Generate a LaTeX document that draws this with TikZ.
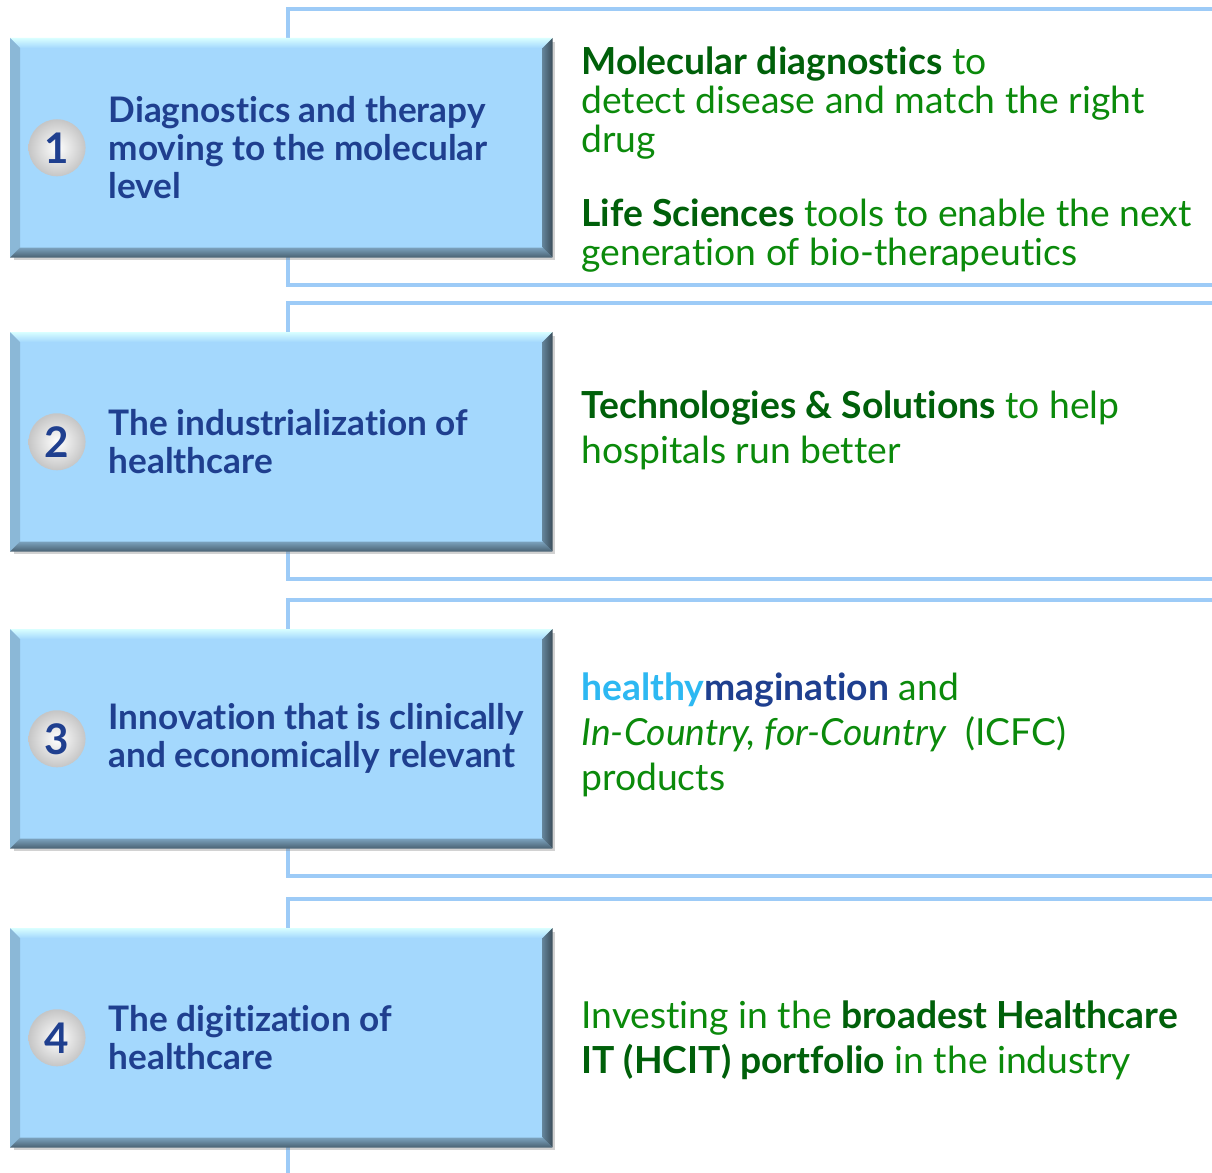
\documentclass[tikz,border=0pt]{standalone}
\usepackage{fontspec}
\setmainfont{Lato}[Ligatures=CommonOff]
\usepackage{tikz}
\usetikzlibrary{positioning,shadows}

\definecolor{rimblue}{HTML}{9DCBF7}
\definecolor{boxblue}{HTML}{A4D8FD}
\definecolor{navy}{HTML}{1F3F8F}
\definecolor{leafgreen}{HTML}{0B8A0B}
\definecolor{darkgreen}{HTML}{00600A}
\definecolor{skyblue}{HTML}{2DB8F2}

\tikzset{
  rim/.style={rimblue, line width=1.3pt},
  panel/.style={fill=boxblue, minimum width=5.41cm, minimum height=2.18cm, inner sep=0pt,
    anchor=north west, drop shadow={shadow xshift=0.03cm, shadow yshift=-0.03cm, fill=gray, opacity=0.35}},
  badge/.style={circle, minimum size=0.57cm, inner sep=0pt, inner color=white, outer color=gray!45,
    font=\bfseries\fontsize{12}{12}\selectfont, text=navy},
  title/.style={font=\bfseries\fontsize{10}{10.8}\selectfont, text=navy, align=left, anchor=west},
  note/.style={font=\fontsize{10.6}{12.8}\selectfont, text=leafgreen, align=left},
}
\newcommand{\hl}[1]{\textbf{\color{darkgreen}#1}}

\begin{document}
\begin{tikzpicture}[x=0.01cm, y=-0.01cm]

        \useasboundingbox (0,0) rectangle (1212,1173);
        \fill[white] (0,0) rectangle (1212,1173);

        % panel frames
        \foreach \t in {9, 303, 600}
        {
        \draw[rim] (1212,\t) -- (288,\t) -- (288,{\t+276}) -- (1212,{\t+276});
        }
        \draw[rim] (1212,899) -- (288,899) -- (288,1173);

        % blue boxes
        \node[panel] (p1) at (10,38) {};
        \node[panel] (p2) at (10,332) {};
        \node[panel] (p3) at (10,629) {};
        \node[panel] (p4) at (10,928) {};

        % bevel edges
        \foreach \b in {p1, p2, p3, p4}
        {
        \shade[top color=cyan!15, bottom color=boxblue] (\b.north west) -- (\b.north east)
          -- ([shift={(-10,10)}]\b.north east) -- ([shift={(10,10)}]\b.north west) -- cycle;
        \fill[boxblue!85!black] (\b.north west) -- ([shift={(10,10)}]\b.north west)
          -- ([shift={(10,-10)}]\b.south west) -- (\b.south west) -- cycle;
        \shade[top color=boxblue!75!black, bottom color=boxblue!45!black] (\b.south west) -- ([shift={(10,-10)}]\b.south west)
          -- ([shift={(-10,-10)}]\b.south east) -- (\b.south east) -- cycle;
        \shade[left color=boxblue!60!black, right color=boxblue!35!black] (\b.north east) -- ([shift={(-10,10)}]\b.north east)
          -- ([shift={(-10,-10)}]\b.south east) -- (\b.south east) -- cycle;
        }

        % numbers and titles
        \node[badge] (n1) at ([xshift=0.47cm]p1.west) {1};
        \node[title, right=0.1cm of n1] (t1) {Diagnostics and therapy\\moving to the molecular\\level};
        \node[badge] (n2) at ([xshift=0.47cm]p2.west) {2};
        \node[title, right=0.1cm of n2] (t2) {The industrialization of\\healthcare};
        \node[badge] (n3) at ([xshift=0.47cm]p3.west) {3};
        \node[title, right=0.1cm of n3] (t3) {Innovation that is clinically\\and economically relevant};
        \node[badge] (n4) at ([xshift=0.47cm]p4.west) {4};
        \node[title, right=0.1cm of n4] (t4) {The digitization of\\healthcare};

        % green texts
        \node[note, anchor=north west, font=\fontsize{10.6}{11.2}\selectfont] (d1) at (569,34)
          {\hl{Molecular diagnostics} to\\detect disease and match the right\\drug};
        \node[note, anchor=north west, font=\fontsize{10.6}{11.2}\selectfont] (d2) at (569,186)
          {\hl{Life Sciences} tools to enable the next\\generation of bio-therapeutics};
        \node[note, anchor=west] (d3) at (569,430)
          {\hl{Technologies \& Solutions} to help\\hospitals run better};
        \node[note, anchor=west] (d4) at (569,735)
          {{\bfseries\color{skyblue}healthy}{\bfseries\color{navy}magination} and\\
           \textit{In-Country, for-Country}\ \ (ICFC)\\products};
        \node[note, anchor=west] (d5) at (569,1040)
          {Investing in the \hl{broadest Healthcare}\\\hl{IT (HCIT) portfolio} in the industry};

\end{tikzpicture}
\end{document}
